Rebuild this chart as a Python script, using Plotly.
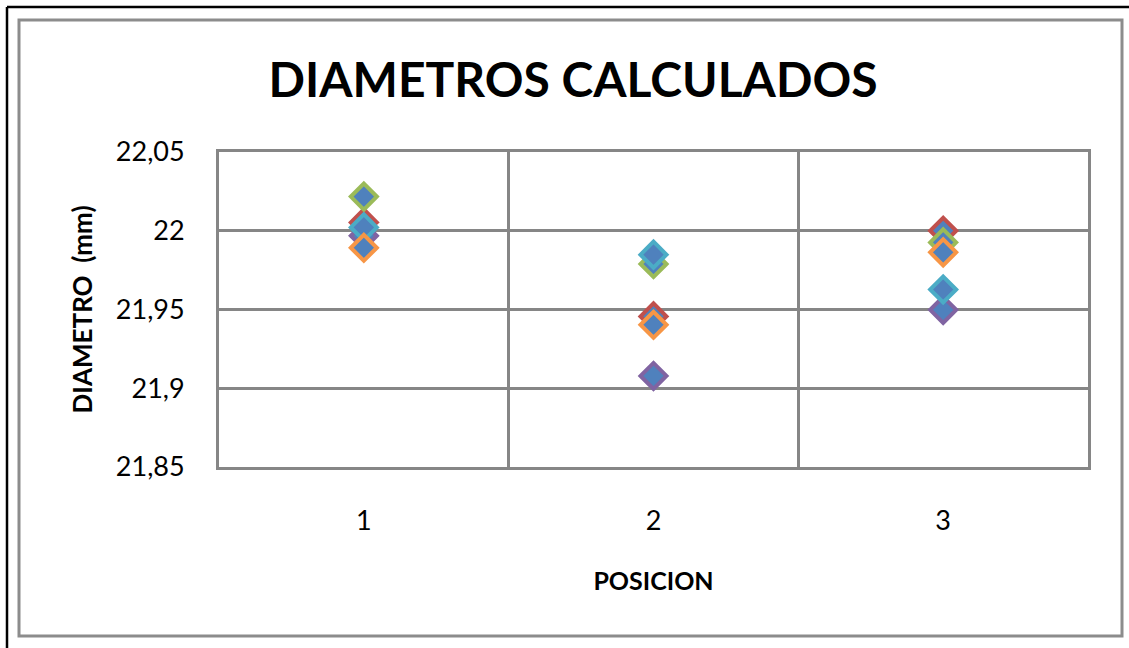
import plotly.graph_objects as go

positions = [1, 2, 3]
series_names = ["Serie 1", "Serie 2", "Serie 3", "Serie 4", "Serie 5"]
series_colors = ["#C0504D", "#9BBB59", "#8064A2", "#4BACC6", "#F79646"]
red_vals = [22.0053, 21.9456, 22.0000]
green_vals = [22.0217, 21.9789, 21.9926]
purple_vals = [21.9968, 21.9078, 21.9498]
aqua_vals = [22.0021, 21.9848, 21.9627]
orange_vals = [21.9892, 21.9403, 21.9863]
series_vals = [red_vals, green_vals, purple_vals, aqua_vals, orange_vals]
# drawing order as in the reference (later ones on top)
draw_order = [2, 0, 1, 3, 4]

y_ticks = [21.85, 21.9, 21.95, 22.0, 22.05]
y_ticklabels = ["21,85", "21,9", "21,95", "22", "22,05"]
x_ticklabels = ["1", "2", "3"]

fig = go.Figure()
for i in draw_order:
    fig.add_trace(go.Scatter(
        x=positions, y=series_vals[i], mode="markers", name=series_names[i],
        marker=dict(symbol="diamond", size=20, color="#4F81BD",
                    line=dict(color=series_colors[i], width=4)),
        showlegend=False,
    ))

grid = "#868686"
fig.update_layout(
    width=1129, height=648,
    margin=dict(l=219, r=41, t=152, b=181),
    paper_bgcolor="white", plot_bgcolor="white",
    font=dict(family="Lato, Open Sans, sans-serif", color="black"),
    title=dict(text="<b>DIAMETROS CALCULADOS</b>", x=573 / 1129, xanchor="center",
               y=1 - 80 / 648, yanchor="middle",
               font=dict(size=48, family="Lato, sans-serif", color="black")),
    xaxis=dict(range=[0.5, 3.5], tickvals=positions, ticktext=x_ticklabels,
               showgrid=False, showline=True, mirror=True, linecolor=grid, linewidth=3,
               ticks="", tickfont=dict(size=27), ticklabelstandoff=28,
               minor=dict(tickvals=[1.5, 2.5], showgrid=True, gridcolor=grid, gridwidth=3, ticks=""),
               zeroline=False,
               title=dict(text="<b>POSICION</b>", font=dict(size=25), standoff=38)),
    yaxis=dict(range=[21.85, 22.05], tickvals=y_ticks, ticktext=y_ticklabels,
               showgrid=True, gridcolor=grid, gridwidth=3,
               showline=True, mirror=True, linecolor=grid, linewidth=3,
               ticks="", tickfont=dict(size=27), ticklabelstandoff=26, zeroline=False,
               title=dict(text="<b>DIAMETRO  (mm)</b>", font=dict(size=26), standoff=16)),
)

def px2x(px):
    return (px - 219) / 869

def py2y(py):
    return (467 - py) / 315

# outer gray chart border
fig.add_shape(type="rect", xref="paper", yref="paper",
              x0=px2x(19), x1=px2x(1122), y0=py2y(636), y1=py2y(20),
              line=dict(color="#8C8C8C", width=3), layer="below")
# black frame left/top
fig.add_shape(type="line", xref="paper", yref="paper",
              x0=px2x(7), x1=px2x(7), y0=py2y(7), y1=py2y(660),
              line=dict(color="black", width=2.5))
fig.add_shape(type="line", xref="paper", yref="paper",
              x0=px2x(7), x1=px2x(1140), y0=py2y(7), y1=py2y(7),
              line=dict(color="black", width=2.5))

fig.write_html("out.html", config={"displayModeBar": False},
               post_script="document.body.style.margin='0';")
